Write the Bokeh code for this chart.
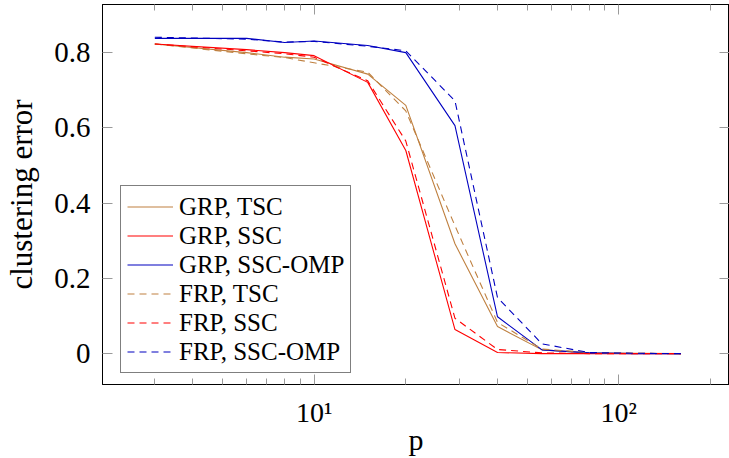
from bokeh.plotting import figure
from bokeh.models import (Range1d, FixedTicker, LinearAxis, LogAxis, Legend, LegendItem)
from bokeh.embed import file_html
from bokeh.resources import INLINE

# ---- data ----
p_values = [3, 6, 8, 10, 15, 20, 29, 40, 56, 80, 112, 160]
grp_tsc = [0.823, 0.800, 0.788, 0.783, 0.743, 0.660, 0.292, 0.072, 0.010, 0.002, 0.001, 0.0]
grp_ssc = [0.823, 0.808, 0.800, 0.792, 0.721, 0.540, 0.064, 0.003, 0.0, 0.0, 0.0, 0.0]
grp_omp = [0.838, 0.838, 0.827, 0.831, 0.819, 0.800, 0.606, 0.098, 0.010, 0.002, 0.0, 0.0]
frp_tsc = [0.823, 0.797, 0.787, 0.773, 0.748, 0.645, 0.340, 0.083, 0.012, 0.003, 0.001, 0.0]
frp_ssc = [0.823, 0.805, 0.797, 0.788, 0.725, 0.565, 0.094, 0.011, 0.002, 0.0, 0.0, 0.0]
frp_omp = [0.841, 0.836, 0.828, 0.830, 0.817, 0.805, 0.672, 0.149, 0.026, 0.003, 0.001, 0.0]

series_labels = ["GRP, TSC", "GRP, SSC", "GRP, SSC-OMP", "FRP, TSC", "FRP, SSC", "FRP, SSC-OMP"]

x_ticks = [10, 100]
x_tick_labels = ["10\u00b9", "10\u00b2"]
x_minor_ticks = [3, 4, 5, 6, 7, 8, 9, 20, 30, 40, 50, 60, 70, 80, 90, 200]
y_ticks = [0, 0.2, 0.4, 0.6, 0.8]
y_tick_labels = ["0", "0.2", "0.4", "0.6", "0.8"]

x_label = "p"
y_label = "clustering error"

# ---- styles ----
FONT = "Liberation Serif"
BROWN = "#bf8040"
RED = "#ff0000"
BLUE = "#0000c0"
TICK_COLOR = "#9a9a9a"

p = figure(width=729, height=458, x_axis_type="log",
           x_range=Range1d(2.02, 231), y_range=Range1d(-0.082, 0.928),
           output_backend="svg", toolbar_location=None,
           min_border_left=102, min_border_right=0, min_border_top=4, min_border_bottom=74)
p.xgrid.visible = False
p.ygrid.visible = False
p.outline_line_color = "black"
p.outline_line_width = 1
p.background_fill_color = "white"

styles = [
    (grp_tsc, BROWN, "solid"),
    (grp_ssc, RED, "solid"),
    (grp_omp, BLUE, "solid"),
    (frp_tsc, BROWN, "7 5"),
    (frp_ssc, RED, "7 5"),
    (frp_omp, BLUE, "7 5"),
]
renderers = []
for ys, col, dash in styles:
    r = p.line(p_values, ys, line_color=col, line_width=1.1, line_dash=dash)
    renderers.append(r)

def style_axis(ax, show_labels):
    ax.axis_line_color = "black"
    ax.major_tick_in = 10
    ax.major_tick_out = 0
    ax.minor_tick_in = 6
    ax.minor_tick_out = 0
    ax.major_tick_line_color = TICK_COLOR
    ax.minor_tick_line_color = TICK_COLOR
    ax.major_label_text_font = FONT
    ax.major_label_text_color = "black"
    ax.axis_label_text_font = FONT
    ax.axis_label_text_font_style = "normal"
    ax.axis_label_text_color = "black"
    if not show_labels:
        ax.major_label_text_font_size = "1px"
        ax.major_label_text_alpha = 0
        ax.major_label_standoff = 0

xax = p.xaxis[0]
xax.ticker = FixedTicker(ticks=x_ticks, minor_ticks=x_minor_ticks)
xax.major_label_overrides = dict(zip(x_ticks, x_tick_labels))
style_axis(xax, True)
xax.major_label_text_font_size = "28px"
xax.major_label_standoff = 12
xax.axis_label = x_label
xax.axis_label_text_font_size = "30px"
xax.axis_label_standoff = -8

yax = p.yaxis[0]
yax.ticker = FixedTicker(ticks=y_ticks, minor_ticks=[])
yax.major_label_overrides = dict(zip(y_ticks, y_tick_labels))
style_axis(yax, True)
yax.major_label_text_font_size = "29px"
yax.major_label_standoff = 12
yax.axis_label = y_label
yax.axis_label_text_font_size = "31px"
yax.axis_label_standoff = 12

top = LogAxis(ticker=FixedTicker(ticks=x_ticks, minor_ticks=x_minor_ticks))
style_axis(top, False)
p.add_layout(top, "above")
right = LinearAxis(ticker=FixedTicker(ticks=y_ticks, minor_ticks=[]))
style_axis(right, False)
p.add_layout(right, "right")

legend = Legend(items=[LegendItem(label=lab, renderers=[r]) for lab, r in zip(series_labels, renderers)],
                location=(18, 11))
legend.margin = 0
legend.padding = 6
legend.spacing = 0
legend.label_height = 29
legend.glyph_height = 29
legend.glyph_width = 46
legend.label_standoff = 6
legend.label_text_font = FONT
legend.label_text_font_size = "25px"
legend.label_text_color = "black"
legend.border_line_color = "black"
legend.border_line_width = 1
legend.background_fill_color = "white"
legend.background_fill_alpha = 1
p.add_layout(legend)

open("out.html", "w").write(file_html(p, INLINE))
